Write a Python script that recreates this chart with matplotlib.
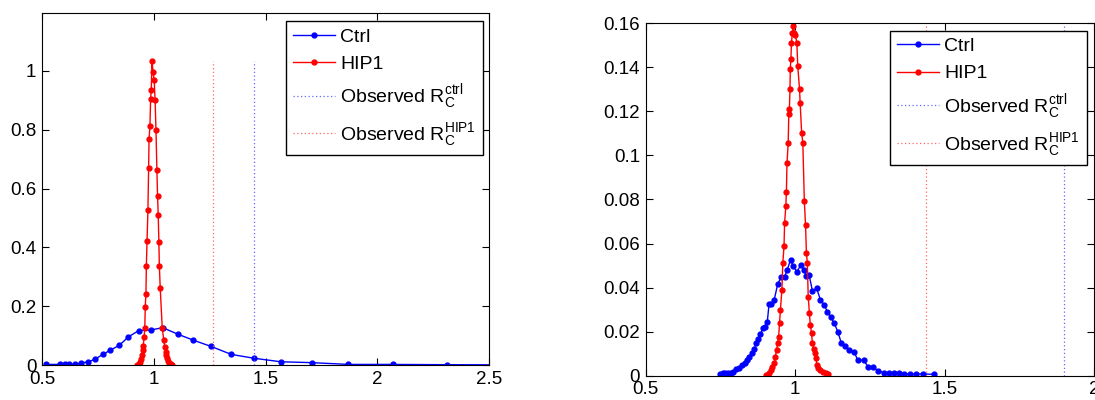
import matplotlib
matplotlib.use("Agg")
import matplotlib.pyplot as plt

plt.rcParams['font.family'] = ['Liberation Sans', 'DejaVu Sans']
plt.rcParams['mathtext.fontset'] = 'custom'
plt.rcParams['mathtext.rm'] = 'Liberation Sans'
plt.rcParams['mathtext.it'] = 'Liberation Sans'

# ---- Panel A: wide bins ----
ctrl_x_a = [0.519, 0.582, 0.601, 0.623, 0.649, 0.674, 0.706, 0.736, 0.772, 0.805,
            0.846, 0.887, 0.933, 0.987, 1.040, 1.107, 1.175, 1.257, 1.347, 1.448,
            1.568, 1.707, 1.871, 2.069, 2.311, 2.580]
ctrl_y_a = [0.002, 0.002, 0.002, 0.002, 0.002, 0.006, 0.011, 0.019, 0.036, 0.050,
            0.067, 0.096, 0.117, 0.119, 0.127, 0.105, 0.085, 0.063, 0.036, 0.023,
            0.011, 0.008, 0.002, 0.002, 0.001, 0.0005]

hip_x_a = [0.927, 0.932, 0.938, 0.942, 0.947, 0.950, 0.953, 0.957, 0.960, 0.962,
           0.965, 0.967, 0.970, 0.974, 0.977, 0.979, 0.983, 0.986, 0.989, 0.992,
           0.997, 1.002, 1.006, 1.010, 1.014, 1.017, 1.020, 1.023, 1.025, 1.029,
           1.038, 1.045, 1.049, 1.053, 1.056, 1.060, 1.064, 1.070, 1.075, 1.082]
hip_y_a = [0.000, 0.003, 0.009, 0.020, 0.034, 0.050, 0.066, 0.096, 0.127, 0.198,
           0.241, 0.338, 0.422, 0.527, 0.670, 0.768, 0.814, 0.905, 0.936, 1.035,
           0.996, 0.968, 0.900, 0.799, 0.663, 0.576, 0.509, 0.417, 0.338, 0.261,
           0.125, 0.085, 0.060, 0.045, 0.034, 0.024, 0.014, 0.006, 0.003, 0.000]

obs_ctrl_a = 1.449
obs_hip_a = 1.263

# ---- Panel B: fine bins ----
ctrl_x_b = [0.750, 0.759, 0.767, 0.776, 0.785, 0.793, 0.802, 0.814, 0.823, 0.831,
            0.838, 0.847, 0.855, 0.863, 0.870, 0.876, 0.884, 0.892, 0.899, 0.907,
            0.913, 0.921, 0.930, 0.942, 0.953, 0.965, 0.973, 0.985, 0.994, 1.006,
            1.020, 1.029, 1.038, 1.047, 1.058, 1.072, 1.085, 1.097, 1.108, 1.120,
            1.131, 1.143, 1.155, 1.166, 1.180, 1.198, 1.209, 1.229, 1.244, 1.262,
            1.279, 1.299, 1.314, 1.331, 1.349, 1.366, 1.386, 1.405, 1.428, 1.465]
ctrl_y_b = [0.0008, 0.0011, 0.0011, 0.0011, 0.0014, 0.0018, 0.0029, 0.0036, 0.0049, 0.0059,
            0.0071, 0.0086, 0.0105, 0.0121, 0.0147, 0.0165, 0.0188, 0.0215, 0.0223, 0.0243,
            0.0326, 0.0326, 0.0344, 0.0416, 0.0446, 0.0450, 0.0478, 0.0526, 0.0496, 0.0473,
            0.0503, 0.0478, 0.0453, 0.0458, 0.0385, 0.0397, 0.0344, 0.0322, 0.0291, 0.0265,
            0.0238, 0.0200, 0.0147, 0.0135, 0.0117, 0.0109, 0.0071, 0.0071, 0.0041, 0.0038,
            0.0021, 0.0014, 0.0011, 0.0011, 0.0011, 0.0008, 0.0008, 0.0008, 0.0008, 0.0006]

hip_x_b = [0.903, 0.913, 0.921, 0.924, 0.930, 0.934, 0.938, 0.942, 0.945, 0.948,
           0.951, 0.956, 0.959, 0.963, 0.965, 0.969, 0.971, 0.973, 0.977, 0.979,
           0.981, 0.983, 0.984, 0.986, 0.988, 0.991, 0.994, 0.998, 1.001, 1.006,
           1.009, 1.015, 1.017, 1.022, 1.026, 1.031, 1.035, 1.038, 1.041, 1.044,
           1.048, 1.051, 1.055, 1.058, 1.062, 1.066, 1.070, 1.073, 1.078, 1.085,
           1.093, 1.102, 1.110]
hip_y_b = [0.0003, 0.0011, 0.0026, 0.0041, 0.0056, 0.0086, 0.0117, 0.0147, 0.0177, 0.0238,
           0.0299, 0.0390, 0.0511, 0.0587, 0.0693, 0.0769, 0.0833, 0.0966, 0.1057, 0.1186,
           0.1209, 0.1300, 0.1394, 0.1436, 0.1512, 0.1557, 0.1588, 0.1557, 0.1545, 0.1512,
           0.1406, 0.1300, 0.1239, 0.1103, 0.1057, 0.0792, 0.0685, 0.0557, 0.0511, 0.0359,
           0.0284, 0.0231, 0.0193, 0.0147, 0.0120, 0.0102, 0.0079, 0.0049, 0.0033, 0.0026,
           0.0018, 0.0011, 0.0008]

obs_ctrl_b = 1.899
obs_hip_b = 1.438

labels = ['Ctrl', 'HIP1',
          r'Observed $\mathregular{R_C^{ctrl}}$',
          r'Observed $\mathregular{R_C^{HIP1}}$']

W, H = 1095, 400
fig = plt.figure(figsize=(W / 100, H / 100), dpi=100)
ax1 = fig.add_axes([42 / W, 1 - 365 / H, 447 / W, 352 / H])
ax2 = fig.add_axes([645.6 / W, 1 - 375.7 / H, 448.4 / W, 352.4 / H])


def draw(ax, cx, cy, hx, hy, obs_c, obs_h, xlim, ylim, xticks, xtl, yticks, ytl, anchor):
    mk = dict(marker='.', markersize=7, linewidth=1.0)
    ax.plot(cx, cy, color='#0000ff', label=labels[0], **mk)
    ax.plot(hx, hy, color='#ff0000', label=labels[1], **mk)
    top = max(hy)
    dot = dict(linestyle=(0, (1, 2)), linewidth=0.9)
    ax.plot([obs_c, obs_c], [0, top], color='#6666ff', label=labels[2], **dot)
    ax.plot([obs_h, obs_h], [0, top], color='#ff6666', label=labels[3], **dot)
    ax.set_xlim(*xlim)
    ax.set_ylim(*ylim)
    ax.set_xticks(xticks)
    ax.set_xticklabels(xtl)
    ax.set_yticks(yticks)
    ax.set_yticklabels(ytl)
    ax.tick_params(direction='in', length=5, width=0.8, top=True, right=True,
                   labelsize=13.5, pad=4)
    for s in ax.spines.values():
        s.set_linewidth(0.8)
    leg = ax.legend(loc='upper right', bbox_to_anchor=anchor, borderaxespad=0,
                    fontsize=14, handlelength=2.2, handletextpad=0.25,
                    labelspacing=0.5, borderpad=0.35, fancybox=False,
                    framealpha=1, edgecolor='black')
    leg.get_frame().set_linewidth(1.0)


draw(ax1, ctrl_x_a, ctrl_y_a, hip_x_a, hip_y_a, obs_ctrl_a, obs_hip_a,
     (0.5, 2.5), (0, 1.197),
     [0.5, 1, 1.5, 2, 2.5], ['0.5', '1', '1.5', '2', '2.5'],
     [0, 0.2, 0.4, 0.6, 0.8, 1.0], ['0', '0.2', '0.4', '0.6', '0.8', '1'],
     (0.9866, 0.977))

draw(ax2, ctrl_x_b, ctrl_y_b, hip_x_b, hip_y_b, obs_ctrl_b, obs_hip_b,
     (0.5, 2.0), (0, 0.16),
     [0.5, 1, 1.5, 2], ['0.5', '1', '1.5', '2'],
     [0, 0.02, 0.04, 0.06, 0.08, 0.10, 0.12, 0.14, 0.16],
     ['0', '0.02', '0.04', '0.06', '0.08', '0.1', '0.12', '0.14', '0.16'],
     (0.9844, 0.979))

fig.savefig('out.png', dpi=100)
